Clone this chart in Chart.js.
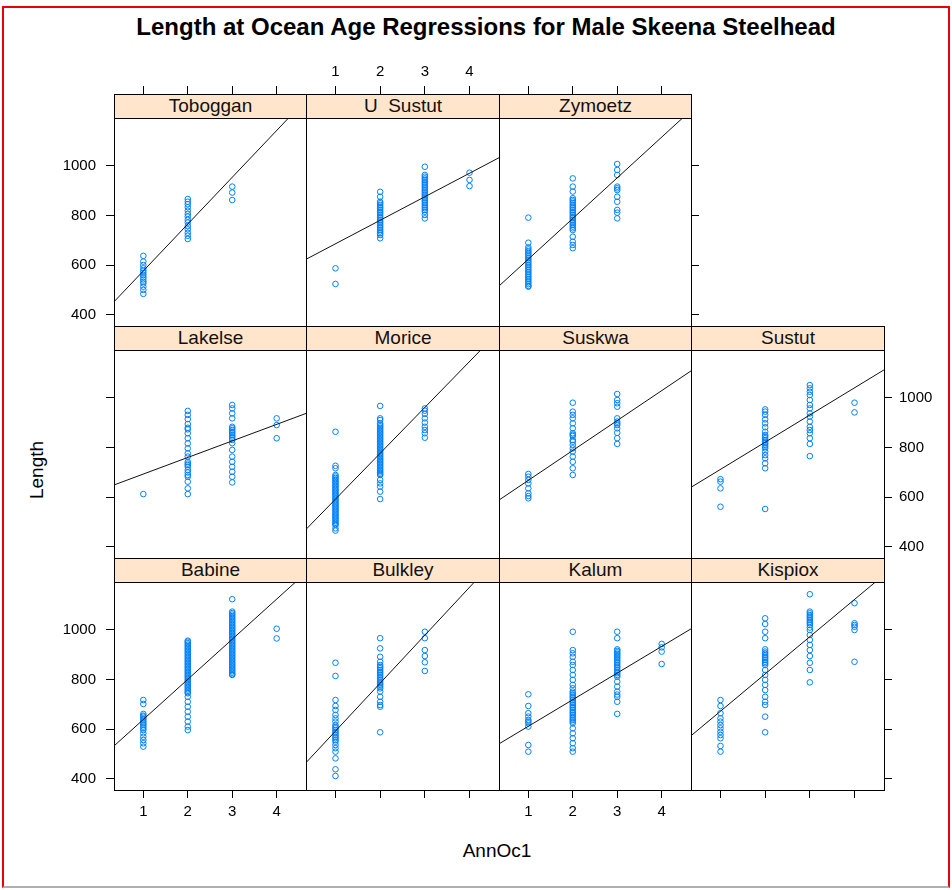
<!DOCTYPE html>
<html><head><meta charset="utf-8">
<script src="https://cdn.jsdelivr.net/npm/chart.js@4.4.1/dist/chart.umd.min.js"></script>
<style>
html,body{margin:0;padding:0;background:#fff;}
#wrap{position:relative;width:952px;height:890px;overflow:hidden;background:#fff;font-family:"Liberation Sans",Arial,sans-serif;color:#000;}
#frame{position:absolute;left:2px;top:6px;width:944px;height:878px;border-top:2px solid #e8000b;border-left:2px solid #e8000b;border-right:2px solid #e8000b;border-bottom:2px solid #b0b0b0;}
canvas{position:absolute;}
.strip{position:absolute;box-sizing:border-box;background:#ffe5cc;border:1px solid #000;text-align:center;font-size:19px;line-height:22px;color:#111;z-index:5;white-space:pre;overflow:hidden;}
.lbl{position:absolute;white-space:nowrap;}
#title{left:486px;top:13px;transform:translateX(-50%);font-weight:bold;font-size:24px;line-height:28px;}
#ylab{left:37px;top:470px;transform:translate(-50%,-50%) rotate(-90deg);font-size:19px;line-height:22px;}
#xlab{left:497px;top:851px;transform:translate(-50%,-50%);font-size:19px;line-height:22px;}
</style></head>
<body><div id="wrap">
<div id="frame"></div>
<div class="lbl" id="title">Length at Ocean Age Regressions for Male Skeena Steelhead</div>
<div class="lbl" id="ylab">Length</div>
<div class="lbl" id="xlab">AnnOc1</div>
</div>
<script>
// ---- data (fish length by ocean age) ----
const panelNames = ["Toboggan","U  Sustut","Zymoetz","Lakelse","Morice","Suskwa","Sustut","Babine","Bulkley","Kalum","Kispiox"];
const ageTicks = [1,2,3,4];
const lengthTicks = [400,600,800,1000];
const ageMin = 0.34, ageMax = 4.66;
const lengthMin = 355.6, lengthMax = 1193.3;

const toboggan1 = [638,615,601,588,578,570,561,552,543,534,527,514,501,485];
const toboggan2 = [867,856,846,834,820,807,796,783,772,758,745,731,719,706];
const toboggan3 = [917,893,863];

const uSustut1 = [588,525];
const uSustut2 = [896,876,856,850,843,836,830,823,816,810,803,796,790,783,776,770,763,756,750,743,736,729,722,709];
const uSustut3 = [997,964,957,950,944,937,930,924,917,910,903,897,890,884,877,870,863,857,850,843,836,830,823,816,803,789];
const uSustut4 = [973,944,919];

const zymoetz1 = [792,691,672,664,657,650,643,636,629,622,615,608,601,594,587,580,573,566,559,552,545,538,531,524,517,514];
const zymoetz2 = [950,917,897,870,863,857,850,843,836,830,823,816,810,803,796,790,783,776,770,763,756,749,742,715,695,682,669];
const zymoetz3 = [1008,984,964,917,910,903,876,856,823,812,789];

const lakelse1 = [613];
const lakelse2 = [948,932,915,895,880,874,858,838,817,797,777,764,743,736,730,723,710,700,690,683,663,636,613];
const lakelse3 = [972,958,938,918,884,878,871,864,858,851,845,838,831,818,791,764,743,723,703,683,660];
const lakelse4 = [918,891,838];

const morice1 = [864,727,717,690,684,678,672,666,660,654,648,642,636,630,624,618,612,606,600,594,588,582,576,570,564,558,552,546,540,534,528,522,516,510,504,498,492,489,475,466];
const morice2 = [968,918,911,898,892,886,880,874,868,862,856,850,844,838,832,826,820,814,808,802,796,790,784,778,772,766,760,754,748,742,736,730,724,718,712,706,700,694,690,670,656,643,623,593];
const morice3 = [958,949,936,918,901,884,871,858,840];

const suskwa1 = [694,683,670,656,636,616,605,596];
const suskwa2 = [981,945,932,918,898,878,858,852,847,831,824,811,797,784,764,743,717,690];
const suskwa3 = [1016,992,979,965,918,905,898,891,878,860,838,815];

const sustut1 = [673,663,636,562];
const sustut2 = [954,945,932,914,898,882,864,851,845,838,831,824,818,811,804,797,784,770,757,737,717,553];
const sustut3 = [1052,1039,1025,1012,992,972,958,938,925,905,884,871,858,838,815,766];
const sustut4 = [981,942];

const babine1 = [718,702,662,655,651,644,638,631,624,618,611,604,597,584,570,557,544,530];
const babine2 = [957,953,947,941,935,929,923,917,911,905,899,893,887,881,875,869,863,857,851,845,839,833,827,821,815,809,803,797,791,785,779,773,767,761,755,749,745,731,711,691,671,651,631,611,597];
const babine3 = [1124,1074,1068,1062,1056,1050,1044,1038,1032,1026,1020,1014,1008,1002,996,990,984,978,972,966,960,954,948,942,936,930,924,918,912,906,900,894,888,882,876,870,864,858,852,846,840,834,828,822,819];
const babine4 = [1005,966];

const bulkley1 = [868,815,718,694,678,658,644,631,617,610,604,597,590,584,577,570,564,557,550,537,524,510,483,439,412];
const bulkley2 = [967,926,892,872,859,852,846,839,832,826,819,812,805,799,792,785,779,772,765,752,731,711,698,691,588];
const bulkley3 = [993,967,919,895,870,835];

const kalum1 = [741,694,665,651,638,631,624,611,537,510];
const kalum2 = [993,919,906,892,872,859,839,819,799,779,765,752,745,738,731,725,718,711,705,698,691,685,678,671,665,658,651,644,638,631,624,604,584,564,544,524,510];
const kalum3 = [993,967,922,916,910,904,898,892,886,879,873,866,859,852,846,839,832,826,819,812,792,772,752,740,731,711,662];
const kalum4 = [944,930,913,863];

const kispiox1 = [718,694,665,644,631,617,604,590,577,564,533,510];
const kispiox2 = [1047,1024,993,967,922,913,906,899,892,886,879,872,866,859,839,819,799,779,758,731,711,698,651,588];
const kispiox3 = [1144,1074,1067,1060,1054,1047,1040,1033,1027,1020,1010,1000,980,960,940,919,895,868,839,789];
const kispiox4 = [1108,1027,1020,1013,1000,872];

// regression lines (Length = intercept + slope * AnnOc1)
const fitIntercept = [389,592,461,627,408,548,603,478,400,505,523];
const fitSlope     = [188.5,94.7,163.8,66.7,184.7,120.4,109.5,161.6,193,107.2,150];

const panelGroups = [
  [toboggan1,toboggan2,toboggan3,[]],
  [uSustut1,uSustut2,uSustut3,uSustut4],
  [zymoetz1,zymoetz2,zymoetz3,[]],
  [lakelse1,lakelse2,lakelse3,lakelse4],
  [morice1,morice2,morice3,[]],
  [suskwa1,suskwa2,suskwa3,[]],
  [sustut1,sustut2,sustut3,sustut4],
  [babine1,babine2,babine3,babine4],
  [bulkley1,bulkley2,bulkley3,[]],
  [kalum1,kalum2,kalum3,kalum4],
  [kispiox1,kispiox2,kispiox3,kispiox4]
];

// ---- layout ----
const M = 60;
const colLefts = [114,306,499,691], colRights = [306,499,691,884];
const rowTops = [118,350,582], panelH = 208, stripH = 24;
const slots = [[0,0],[0,1],[0,2],[1,0],[1,1],[1,2],[1,3],[2,0],[2,1],[2,2],[2,3]];
const FONT = {family:'"Liberation Sans", Arial, sans-serif', size:15};
const wrap = document.getElementById('wrap');

function axis(pos, horiz, ticksOn, labelsOn, tickLen, pad){
  return {
    type:'linear', position:pos, display:true,
    min: horiz ? ageMin : lengthMin, max: horiz ? ageMax : lengthMax,
    afterBuildTicks: s => { s.ticks = (horiz ? ageTicks : lengthTicks).map(v => ({value:v})); },
    afterFit: s => { if (horiz) s.height = M; else s.width = M; },
    grid:{display:ticksOn, drawOnChartArea:false, drawTicks:true, tickLength:tickLen, color:'#000', tickColor:'#000', tickWidth:1, lineWidth:1},
    border:{display:true, color:'#000', width:1},
    ticks:{display:labelsOn, padding:pad, color:'#000', font:FONT, callback:v => String(v), maxRotation:0, minRotation:0, autoSkip:false}
  };
}

panelNames.forEach((name, i) => {
  const [r, c] = slots[i];
  const L = colLefts[c], W = colRights[c] - L, T = rowTops[r];
  const cv = document.createElement('canvas');
  cv.width = W + 2*M; cv.height = panelH + 2*M;
  cv.style.left = (L - M) + 'px'; cv.style.top = (T - M) + 'px';
  cv.style.width = (W + 2*M) + 'px'; cv.style.height = (panelH + 2*M) + 'px';
  wrap.appendChild(cv);

  const strip = document.createElement('div');
  strip.className = 'strip';
  strip.style.left = L + 'px'; strip.style.top = (T - stripH) + 'px';
  strip.style.width = (W + 1) + 'px'; strip.style.height = (stripH + 1) + 'px';
  strip.textContent = name;
  wrap.appendChild(strip);

  const pts = [];
  panelGroups[i].forEach((arr, k) => arr.forEach(v => pts.push({x: ageTicks[k], y: v})));
  const fit = [ageMin, ageMax].map(a => ({x: a, y: fitIntercept[i] + fitSlope[i]*a}));

  const rightmost = (r === 0 && c === 2) || (r > 0 && c === 3);
  new Chart(cv, {
    type:'scatter',
    data:{datasets:[
      {type:'line', data:fit, borderColor:'#111', borderWidth:1, pointRadius:0, pointHoverRadius:0, fill:false, tension:0},
      {type:'scatter', data:pts, pointStyle:'circle', pointRadius:2.8, pointHoverRadius:2.8, borderColor:'#0080ff', backgroundColor:'rgba(0,0,0,0)', borderWidth:1}
    ]},
    options:{
      responsive:false, animation:false, devicePixelRatio:1, events:[],
      layout:{padding:0},
      plugins:{legend:{display:false}, tooltip:{enabled:false}, title:{display:false}},
      scales:{
        x:  axis('bottom', true, r === 2, r === 2 && (c === 0 || c === 2), 8, 5),
        x2: axis('top', true, r === 0, r === 0 && c === 1, stripH + 8, 5),
        y:  axis('left', false, c === 0, c === 0 && r !== 1, 8, 10),
        y2: axis('right', false, rightmost, r === 1 && c === 3, 8, 7)
      }
    }
  });
});
</script>
</body></html>
